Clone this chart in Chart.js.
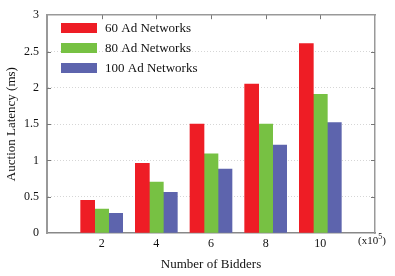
<!DOCTYPE html>
<html>
<head>
<meta charset="utf-8">
<script src="https://cdn.jsdelivr.net/npm/chart.js@4.4.1/dist/chart.umd.min.js"></script>
<style>
  html, body { margin: 0; padding: 0; background: #fff; }
  #wrap { width: 395px; height: 276px; }
</style>
</head>
<body>
<div id="wrap"><canvas id="chart"></canvas></div>
<script>
const bidders = [2, 4, 6, 8, 10];
const seriesLabels = ['60 Ad Networks', '80 Ad Networks', '100 Ad Networks'];
const net60 = [0.45, 0.96, 1.50, 2.05, 2.61];
const net80 = [0.33, 0.70, 1.09, 1.50, 1.91];
const net100 = [0.27, 0.56, 0.88, 1.21, 1.52];
const colors = ['#ee1d25', '#77c143', '#5d64ad'];

const FONT = '"Liberation Serif", "Times New Roman", serif';

function points(vals) {
    return bidders.map((b, i) => ({ x: b, y: vals[i] }));
}

// inward tick marks, the legend box and the (x10^5) note
const decor = {
    id: 'decor',
    afterDraw(chart) {
        const { ctx, chartArea: a, scales } = chart;
        ctx.save();
        ctx.strokeStyle = '#777';
        ctx.lineWidth = 1;
        ctx.beginPath();
        [2, 4, 6, 8, 10].forEach(v => {
            const px = Math.round(scales.x.getPixelForValue(v)) + 0.5;
            ctx.moveTo(px, a.top);
            ctx.lineTo(px, a.top + 4);
        });
        for (let v = 0.5; v < 3; v += 0.5) {
            const py = Math.round(scales.y.getPixelForValue(v)) + 0.5;
            ctx.moveTo(a.right, py);
            ctx.lineTo(a.right - 4, py);
            ctx.moveTo(a.left, py);
            ctx.lineTo(a.left + 4, py);
        }
        ctx.stroke();

        // legend
        ctx.font = '13px ' + FONT;
        ctx.textBaseline = 'middle';
        chart.data.datasets.forEach((ds, i) => {
            const y = 23 + i * 20;
            ctx.fillStyle = ds.backgroundColor;
            ctx.fillRect(61, y, 36, 10);
            ctx.fillStyle = '#111';
            ctx.fillText(ds.label, 105, y + 5.5);
        });

        // multiplier note
        ctx.fillStyle = '#111';
        ctx.textBaseline = 'alphabetic';
        ctx.font = '11px ' + FONT;
        ctx.fillText('(x10', 358, 244);
        const w = ctx.measureText('(x10').width;
        ctx.font = '8px ' + FONT;
        ctx.fillText('5', 358 + w, 239);
        const w2 = ctx.measureText('5').width;
        ctx.font = '11px ' + FONT;
        ctx.fillText(')', 358 + w + w2, 244);
        ctx.restore();
    }
};

new Chart(document.getElementById('chart'), {
    type: 'bar',
    data: {
        datasets: [
            { label: seriesLabels[0], data: points(net60), backgroundColor: colors[0] },
            { label: seriesLabels[1], data: points(net80), backgroundColor: colors[1] },
            { label: seriesLabels[2], data: points(net100), backgroundColor: colors[2] },
        ],
    },
    options: {
        responsive: true,
        maintainAspectRatio: false,
        animation: false,
        layout: { padding: 0 },
        barThickness: 14,
        plugins: {
            legend: { display: false },
            tooltip: { enabled: false },
        },
        scales: {
            x: {
                type: 'linear',
                position: 'bottom',
                offset: false,
                min: 0,
                max: 12,
                afterFit(s) { s.height = 43; },
                ticks: {
                    stepSize: 2,
                    padding: 4,
                    color: '#111',
                    font: { family: FONT, size: 12 },
                    callback: v => (v === 0 || v === 12) ? '' : v,
                },
                grid: { display: false, drawTicks: false },
                border: { display: true, color: '#888', width: 1.5 },
                title: {
                    display: true,
                    text: 'Number of Bidders',
                    color: '#111',
                    font: { family: FONT, size: 13 },
                    padding: { top: 7 },
                },
            },
            xTop: {
                type: 'linear',
                position: 'top',
                offset: false,
                min: 0,
                max: 12,
                afterFit(s) { s.height = 15; },
                ticks: { display: false },
                grid: { display: false, drawTicks: false },
                border: { display: true, color: '#999', width: 1.5 },
            },
            y: {
                position: 'left',
                min: 0,
                max: 3,
                afterFit(s) { s.width = 47; },
                ticks: {
                    stepSize: 0.5,
                    padding: 8,
                    color: '#111',
                    font: { family: FONT, size: 12 },
                    callback: v => String(v),
                },
                grid: {
                    drawTicks: false,
                    color: ctx => (ctx.tick.value === 0 || ctx.tick.value === 3) ? 'rgba(0,0,0,0)' : '#d6d6d6',
                    lineWidth: 1,
                },
                border: { display: true, color: '#999', width: 2, dash: [1, 2] },
                title: {
                    display: true,
                    text: 'Auction Latency (ms)',
                    color: '#111',
                    font: { family: FONT, size: 13 },
                    padding: { bottom: 2 },
                },
            },
            yRight: {
                position: 'right',
                min: 0,
                max: 3,
                afterFit(s) { s.width = 20; },
                ticks: { display: false },
                grid: { display: false, drawTicks: false },
                border: { display: true, color: '#999', width: 1.5 },
            },
        },
    },
    plugins: [decor],
});
</script>
</body>
</html>
